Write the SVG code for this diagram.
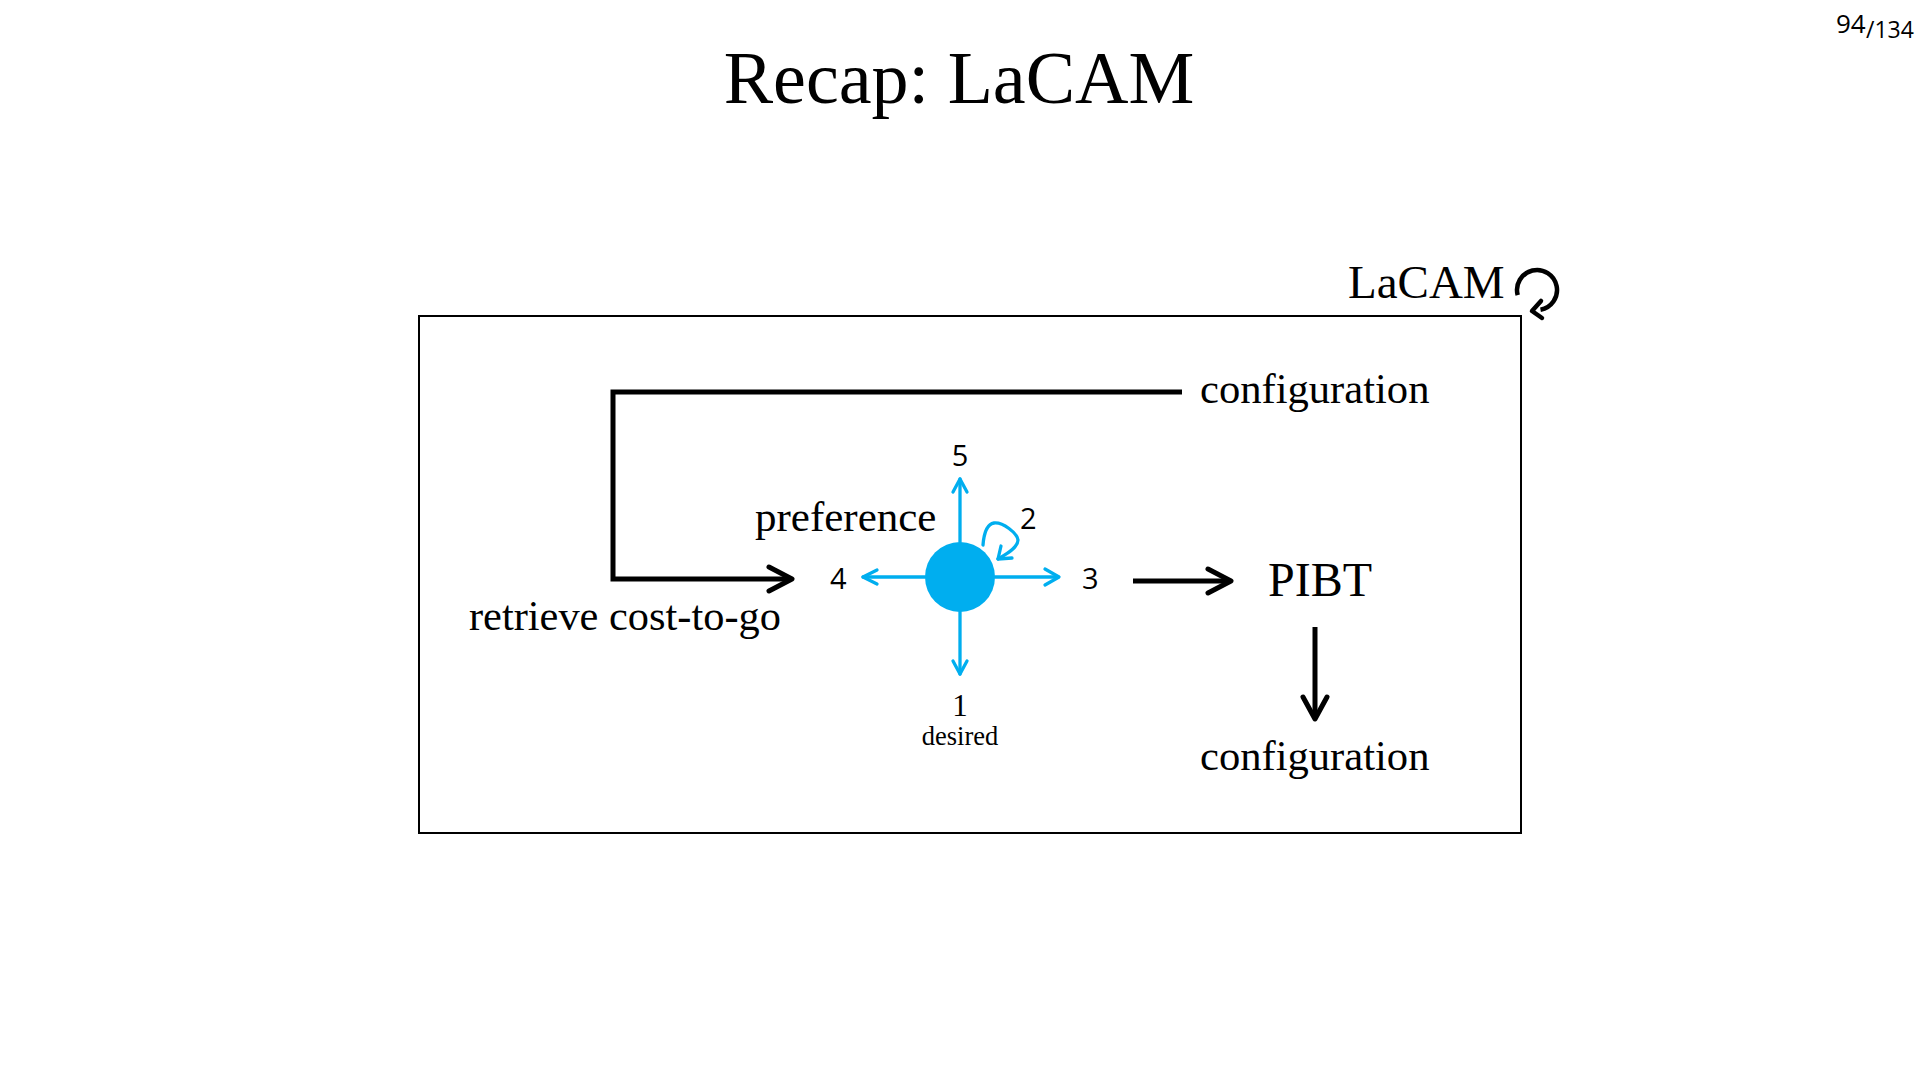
<svg xmlns="http://www.w3.org/2000/svg" width="1920" height="1080" viewBox="0 0 1920 1080">
<style>
.serif{font-family:"Liberation Serif","DejaVu Serif",serif;fill:#000}
.sans{font-family:"Open Sans","DejaVu Sans",sans-serif;fill:#000}
.blk{fill:none;stroke:#000;stroke-width:5;stroke-linejoin:miter}
.head{fill:none;stroke:#000;stroke-width:5;stroke-linecap:round;stroke-linejoin:round}
.blu{fill:none;stroke:#00aeef;stroke-width:3.3;stroke-linecap:round;stroke-linejoin:round}
</style>
<rect width="1920" height="1080" fill="#fff"/>
<g id="title"><text class="serif" x="959" y="103" font-size="74" text-anchor="middle">Recap: LaCAM</text></g>
<g id="page"><text class="sans" x="1836" y="33" font-size="26">94</text><text class="sans" x="1866" y="38" font-size="23">/134</text></g>
<g id="lacam-box">
<rect x="419" y="316" width="1102" height="517" fill="none" stroke="#000" stroke-width="2"/>
<text class="serif" x="1348" y="298" font-size="47">LaCAM</text>
<path d="M1517.7,295.2 A20,20 0 1 1 1540.5,309.7" fill="none" stroke="#000" stroke-width="4.5"/>
<polyline points="1541,301 1532,311 1542,318" fill="none" stroke="#000" stroke-width="4.5" stroke-linecap="round" stroke-linejoin="round"/>
</g>
<g id="config-top"><text class="serif" x="1200" y="403" font-size="42.6">configuration</text></g>
<g id="retrieve"><text class="serif" x="469" y="630" font-size="42.4">retrieve cost-to-go</text></g>
<g id="preference">
<text class="serif" x="755" y="531" font-size="43">preference</text>
<circle cx="960" cy="577" r="35" fill="#00aeef"/>
<text class="sans" x="960" y="466" font-size="29" text-anchor="middle">5</text>
<text class="sans" x="1020" y="529" font-size="29">2</text>
<text class="sans" x="1082" y="589" font-size="29">3</text>
<text class="sans" x="830" y="589" font-size="29">4</text>
<text class="serif" x="960" y="716" font-size="31" text-anchor="middle">1</text>
<text class="serif" x="960" y="745" font-size="26.5" text-anchor="middle">desired</text>
</g>
<g id="pibt"><text class="serif" x="1268" y="596" font-size="48">PIBT</text></g>
<g id="config-bottom"><text class="serif" x="1200" y="770" font-size="42.6">configuration</text></g>
<g id="connectors">
<path class="blk" d="M1182,392 H613 V579 H790"/>
<polyline class="head" points="769,567 792,579 769,591"/>
<path class="blk" d="M1133,581 H1229"/>
<polyline class="head" points="1208,569 1231,581 1208,593"/>
<path class="blk" d="M1315,627 V717"/>
<polyline class="head" points="1303,697 1315,719 1327,697"/>
<path class="blu" d="M960,542 V479"/>
<polyline class="blu" points="953,492 960,479 967,492"/>
<path class="blu" d="M925,577 H863"/>
<polyline class="blu" points="877,570 863,577 877,584"/>
<path class="blu" d="M995,577 H1058"/>
<polyline class="blu" points="1045,569 1059,577 1045,585"/>
<path class="blu" d="M960,612 V674"/>
<polyline class="blu" points="953,661 960,674 967,661"/>
<path class="blu" d="M983,545 C984,532 988,524 994,523 C1003,522 1017,533 1018,540 C1018,548 1005,555 998,559"/>
<polyline class="blu" points="1001,546 998,559 1012,558"/>
</g>
</svg>
